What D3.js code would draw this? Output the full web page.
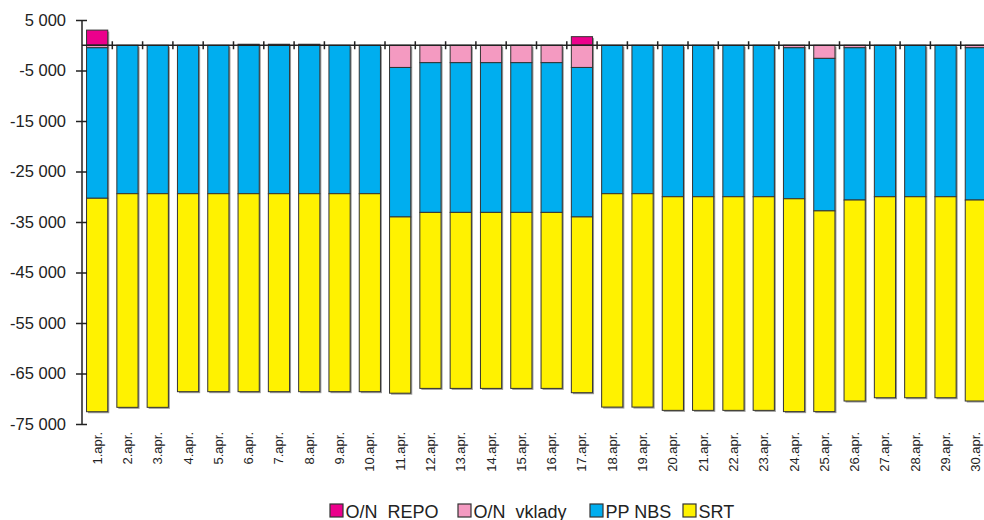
<!DOCTYPE html>
<html>
<head>
<meta charset="utf-8">
<script src="https://cdn.jsdelivr.net/npm/d3@7"></script>
<style>
  html, body { margin: 0; padding: 0; background: #fff; }
  svg { display: block; font-family: "Liberation Sans", Arial, Helvetica, sans-serif; }
</style>
</head>
<body>
<svg id="chart" width="984" height="520"></svg>
<script>
// ---- data ----
const days = ["1.apr.","2.apr.","3.apr.","4.apr.","5.apr.","6.apr.","7.apr.","8.apr.","9.apr.","10.apr.",
  "11.apr.","12.apr.","13.apr.","14.apr.","15.apr.","16.apr.","17.apr.","18.apr.","19.apr.","20.apr.",
  "21.apr.","22.apr.","23.apr.","24.apr.","25.apr.","26.apr.","27.apr.","28.apr.","29.apr.","30.apr."];
const seriesNames = ["O/N  REPO", "O/N  vklady", "PP NBS", "SRT"];
const onRepo = [3000,0,0,0,0,200,200,200,0,0, 0,0,0,0,0,0,1700,0,0,0, 0,0,0,0,0,0,0,0,0,0];
const onVklady = [-500,0,0,0,0,0,0,0,0,0, -4400,-3450,-3450,-3450,-3450,-3450,-4400,0,0,0, 0,0,0,-500,-2600,-500,0,0,0,-500];
const ppNbs = [-29800,-29400,-29400,-29400,-29400,-29400,-29400,-29400,-29400,-29400,
  -29600,-29650,-29650,-29650,-29650,-29650,-29600,-29400,-29400,-30000,
  -30000,-30000,-30000,-29900,-30200,-30150,-30000,-30000,-30000,-30150];
const srt = [-42270,-42300,-42300,-39200,-39200,-39200,-39200,-39200,-39200,-39200,
  -34900,-34850,-34850,-34850,-34850,-34850,-34800,-42250,-42250,-42300,
  -42300,-42300,-42300,-42150,-39750,-39800,-39800,-39800,-39800,-39800];
const yTicks = [5000,-5000,-15000,-25000,-35000,-45000,-55000,-65000,-75000];
const colors = ["#EC008C", "#F49AC1", "#00AEEF", "#FFF200"];

(function () {
// ---- build table ----
const keys = ["repo","vklady","pp","srt"];
const table = days.map((d, i) => ({day: d, repo: onRepo[i], vklady: onVklady[i], pp: ppNbs[i], srt: srt[i]}));
const stacked = d3.stack().keys(keys).offset(d3.stackOffsetDiverging)(table);

const svg = d3.select("#chart");
const pLeft = 82, pRight = 991, pTop = 20, pBottom = 424;

const x = d3.scaleBand().domain(days).range([pLeft, pRight]).paddingInner(0.3).paddingOuter(0.15);
const y = d3.scaleLinear().domain([-75000, 5000]).range([pBottom, pTop]);

const loc = d3.formatLocale({decimal: ",", thousands: " ", grouping: [3], currency: ["", ""], minus: "-"});
const fmt = loc.format(",d");

// shadows
const totals = table.map(d => ({day: d.day, hi: d.repo, lo: d.vklady + d.pp + d.srt}));
svg.append("g").selectAll("rect").data(totals).join("rect")
  .attr("x", d => x(d.day) + 1.5)
  .attr("y", d => y(d.hi) + 1.5)
  .attr("width", x.bandwidth())
  .attr("height", d => y(d.lo) - y(d.hi))
  .attr("fill", "#9a9a9a");

// bars
const g = svg.append("g");
stacked.forEach((s, k) => {
  g.append("g").selectAll("rect").data(s.filter(d => d[1] - d[0] !== 0)).join("rect")
    .attr("x", d => x(d.data.day))
    .attr("y", d => y(d[1]))
    .attr("width", x.bandwidth())
    .attr("height", d => Math.max(0.5, y(d[0]) - y(d[1])))
    .attr("fill", colors[k])
    .attr("stroke", "#333")
    .attr("stroke-width", 1);
});

// zero axis line with category ticks
const zy = y(0);
svg.append("line").attr("x1", pLeft).attr("x2", 984).attr("y1", zy).attr("y2", zy)
  .attr("stroke", "#222").attr("stroke-width", 1.5);
const step = x.step();
svg.append("g").selectAll("line").data(days.slice(1)).join("line")
  .attr("x1", d => x(d) - step * x.paddingInner() / 2)
  .attr("x2", d => x(d) - step * x.paddingInner() / 2)
  .attr("y1", zy - 4).attr("y2", zy + 4)
  .attr("stroke", "#222").attr("stroke-width", 1.5);

// y axis
const yAxis = d3.axisLeft(y).tickValues(yTicks).tickFormat(fmt).tickSize(6).tickPadding(10);
const ya = svg.append("g").attr("transform", `translate(${pLeft},0)`).call(yAxis);
ya.select(".domain").attr("stroke", "#222").attr("stroke-width", 1.5).attr("d", `M0,${pTop}V${pBottom}`);
ya.selectAll(".tick line").attr("stroke", "#222").attr("stroke-width", 1.5).attr("x1", 5);
ya.selectAll(".tick text").attr("font-size", 16.5).attr("fill", "#222")
  .attr("font-family", "'Liberation Sans', Arial, sans-serif");

// x labels
svg.append("g").selectAll("text").data(days).join("text")
  .attr("transform", d => `translate(${x(d) + x.bandwidth() / 2 + 4.5},432) rotate(-90)`)
  .attr("text-anchor", "end")
  .attr("font-size", 13)
  .attr("fill", "#222")
  .text(d => d);

// legend
const legendX = [330, 458, 590, 683];
const lg = svg.append("g");
seriesNames.forEach((name, i) => {
  lg.append("rect").attr("x", legendX[i]).attr("y", 504).attr("width", 13).attr("height", 13)
    .attr("fill", colors[i]).attr("stroke", "#333").attr("stroke-width", 1.2);
  lg.append("text").attr("x", legendX[i] + 15.5).attr("y", 517.5)
    .attr("font-size", 18).attr("fill", "#222").style("white-space", "pre")
    .text(name);
});
})();
</script>
</body>
</html>
